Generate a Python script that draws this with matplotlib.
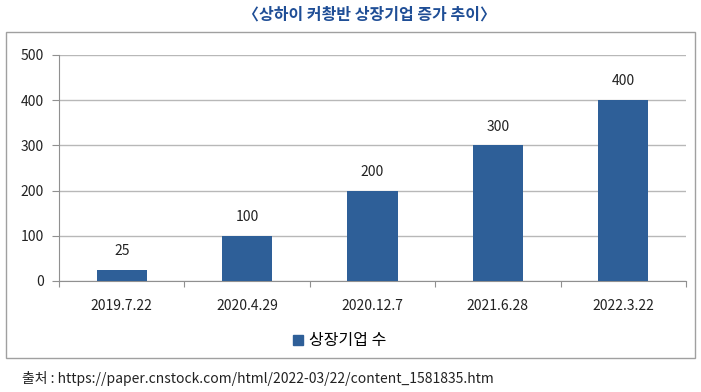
import matplotlib

matplotlib.use("Agg")
import matplotlib.pyplot as plt
from matplotlib.patches import Patch, Rectangle

plt.rcParams["font.family"] = ["Noto Sans CJK KR", "DejaVu Sans"]

# data
dates = ["2019.7.22", "2020.4.29", "2020.12.7", "2021.6.28", "2022.3.22"]
listed_counts = [25, 100, 200, 300, 400]
y_ticks = [0, 100, 200, 300, 400, 500]
series_name = "상장기업 수"
title = "〈상하이 커촹반 상장기업 증가 추이〉"
source = "출처 : https://paper.cnstock.com/html/2022-03/22/content_1581835.htm"

W, H = 701, 392
bar_color = "#2E5F98"
grid_color = "#B8B8B8"

fig = plt.figure(figsize=(W / 100, H / 100), dpi=100)
ax = fig.add_axes([59 / W, 1 - 281 / H, (686 - 59) / W, (281 - 55) / H])

x = list(range(len(dates)))
ax.bar(x, listed_counts, width=0.4, color=bar_color, zorder=3)
for xi, v in zip(x, listed_counts):
    ax.annotate(str(v), (xi, v), xytext=(0, 13.5), textcoords="offset points",
                ha="center", va="center", fontsize=10, color="#222222")

ax.set_xlim(-0.5, len(dates) - 0.5)
ax.set_ylim(0, 500)
ax.set_yticks(y_ticks)
ax.set_yticklabels([str(t) for t in y_ticks], fontsize=10, color="#222222")
ax.yaxis.grid(True, color=grid_color, linewidth=1, zorder=0)

ax.set_xticks([i - 0.5 for i in range(len(dates) + 1)])
ax.set_xticklabels([])
ax.set_xticks(x, minor=True)
ax.set_xticklabels(dates, minor=True, fontsize=10, color="#222222")
ax.tick_params(axis="x", which="minor", length=0, pad=13)
ax.tick_params(axis="x", which="major", length=4, color="#909090")
ax.tick_params(axis="y", length=5, color="#909090", pad=6)

for side in ["top", "right"]:
    ax.spines[side].set_visible(False)
for side in ["left", "bottom"]:
    ax.spines[side].set_color("#909090")

fig.patches.append(Rectangle((6 / W, 1 - 358 / H), (695 - 6) / W, (358 - 32) / H,
                             transform=fig.transFigure, fill=False,
                             edgecolor="#A0A0A0", linewidth=1))

fig.text(370 / W, 1 - 15 / H, title, ha="center", va="center",
         fontsize=11.5, fontweight="bold", color="#1F4E96")

fig.legend([Patch(color=bar_color)], [series_name], loc="center",
           bbox_to_anchor=(340 / W, 1 - 341 / H), frameon=False,
           fontsize=11.5, handlelength=0.6, handleheight=0.6, handletextpad=0.4)

fig.text(22 / W, 1 - 379 / H, source, ha="left", va="center",
         fontsize=10, color="#222222")

fig.savefig("out.png", dpi=100)
